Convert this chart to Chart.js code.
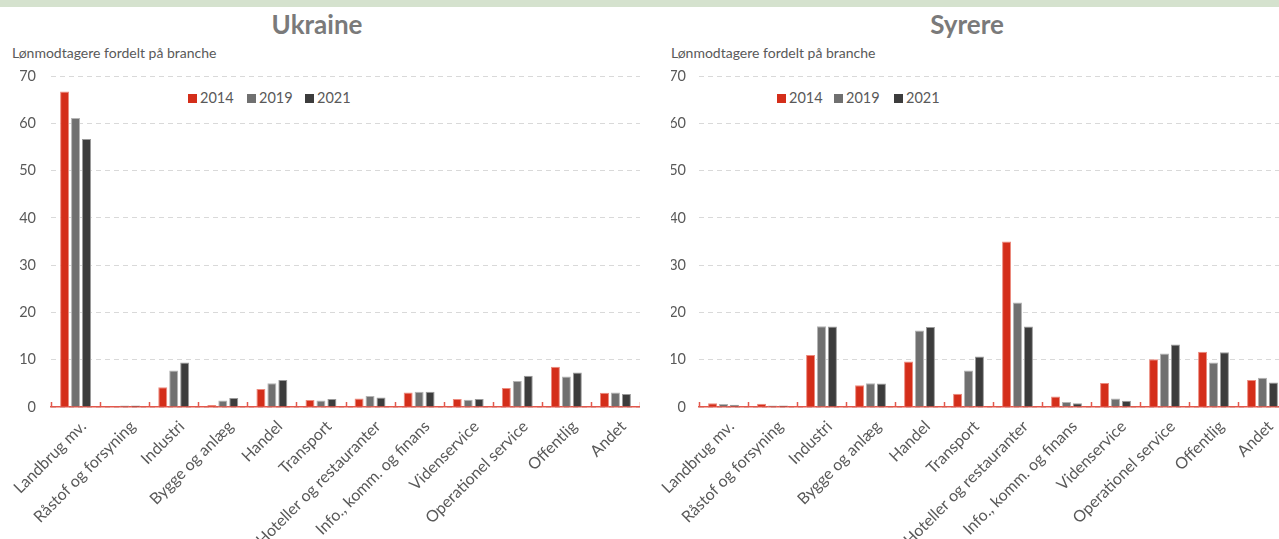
<!DOCTYPE html>
<html>
<head>
<meta charset="utf-8">
<script src="https://cdn.jsdelivr.net/npm/chart.js@4"></script>
<style>
  html, body { margin: 0; padding: 0; background: #fff; overflow: hidden; }
  body { width: 1279px; height: 539px; position: relative; font-family: Lato, 'Open Sans', sans-serif; }
  .band { position: absolute; left: 0; top: 0; width: 1279px; height: 7px; background: #d5e2ce; }
  .title { position: absolute; top: 8px; font-weight: bold; font-size: 26px; color: #7a7a7a; transform: translateX(-50%); white-space: nowrap; }
  .sub { position: absolute; top: 44px; font-size: 14px; color: #595959; white-space: nowrap; }
  .legend { position: absolute; top: 89px; font-size: 14.5px; color: #595959; white-space: nowrap; }
  .legend span { position: absolute; top: 0; }
  .legend i { position: absolute; top: 5px; width: 9px; height: 9px; }
  canvas { position: absolute; top: 0; }
</style>
</head>
<body>
<div class="band"></div>
<div class="title" style="left:317px">Ukraine</div>
<div class="title" style="left:967px">Syrere</div>
<div class="sub" style="left:12px">Lønmodtagere fordelt på branche</div>
<div class="sub" style="left:671px">Lønmodtagere fordelt på branche</div>
<div class="legend" id="legendLeft" style="left:188px"></div>
<div class="legend" id="legendRight" style="left:777px"></div>
<canvas id="ukraineChart" width="640" height="539" style="left:0"></canvas>
<canvas id="syrereChart" width="647" height="539" style="left:640px"></canvas>

<script>
// Branches
const categories = [
  'Landbrug mv.', 'Råstof og forsyning', 'Industri', 'Bygge og anlæg', 'Handel',
  'Transport', 'Hoteller og restauranter', 'Info., komm. og finans', 'Videnservice',
  'Operationel service', 'Offentlig', 'Andet'
];
const years = ['2014', '2019', '2021'];

// Ukraine (pct.)
const ukraine2014 = [66.7, 0.0, 4.2, 0.4, 3.8, 1.5, 1.8, 3.05, 1.7, 4.0, 8.5, 3.0];
const ukraine2019 = [61.1, 0.3, 7.7, 1.4, 5.0, 1.35, 2.3, 3.2, 1.55, 5.5, 6.45, 3.05];
const ukraine2021 = [56.7, 0.3, 9.4, 1.9, 5.7, 1.7, 2.0, 3.2, 1.7, 6.6, 7.3, 2.75];

// Syrere (pct.)
const syrere2014 = [0.8, 0.7, 11.0, 4.6, 9.6, 2.8, 35.0, 2.2, 5.1, 10.1, 11.7, 5.7];
const syrere2019 = [0.65, 0.3, 17.1, 5.0, 16.2, 7.7, 22.1, 1.05, 1.8, 11.3, 9.4, 6.2];
const syrere2021 = [0.45, 0.3, 17.0, 4.95, 16.9, 10.7, 17.0, 0.8, 1.3, 13.2, 11.6, 5.2];

// y axis ticks
const yTicks = [0, 10, 20, 30, 40, 50, 60, 70];

const barColors = ['#d42e1a', '#707070', '#3c3c3c'];
const barBorders = ['#ec8a7e', '#b4b4b4', '#9a9a9a'];
const axisRed = '#e3574b';
const textGray = '#595959';

// small up-pointing tick marks between the categories
const insideTicks = {
  id: 'insideTicks',
  afterDatasetsDraw(chart) {
    const x = chart.scales.x;
    const ctx = chart.ctx;
    const n = categories.length;
    const w = (x.right - x.left) / n;
    ctx.save();
    ctx.strokeStyle = axisRed;
    ctx.lineWidth = 1.5;
    for (let i = 0; i <= n; i++) {
      const px = Math.round(x.left + i * w) + 0.5;
      ctx.beginPath();
      ctx.moveTo(px, x.top);
      ctx.lineTo(px, x.top - 5);
      ctx.stroke();
    }
    ctx.restore();
  }
};

function buildLegend(id, offsets) {
  const el = document.getElementById(id);
  years.forEach((y, i) => {
    el.innerHTML += '<i style="left:' + offsets[i] + 'px;background:' + barColors[i] + '"></i>' +
      '<span style="left:' + (offsets[i] + 12) + 'px">' + y + '</span>';
  });
}

function makeChart(canvasId, series, padLeft, yWidth, yPad) {
  return new Chart(document.getElementById(canvasId), {
    type: 'bar',
    data: {
      labels: categories,
      datasets: series.map((values, i) => ({
        label: years[i],
        data: values,
        backgroundColor: barColors[i],
        borderColor: barBorders[i],
        borderWidth: 1,
        categoryPercentage: 0.67,
        barPercentage: 0.82
      }))
    },
    options: {
      responsive: false,
      animation: false,
      layout: { padding: { left: padLeft, top: 76, right: 0, bottom: 0 } },
      plugins: {
        legend: { display: false },
        tooltip: { enabled: false }
      },
      scales: {
        x: {
          grid: { display: false },
          border: { color: axisRed, width: 1.5 },
          ticks: {
            color: textGray,
            font: { family: 'Lato', size: 16 },
            minRotation: 45,
            maxRotation: 45,
            padding: 2,
            labelOffset: 8
          },
          afterFit: (scale) => { scale.height = 132; }
        },
        y: {
          min: 0,
          max: 70,
          afterBuildTicks: (scale) => { scale.ticks = yTicks.map(v => ({ value: v })); },
          grid: { color: '#d9d9d9', drawTicks: false, lineWidth: 1 },
          border: { display: false, dash: [5, 4] },
          ticks: {
            color: textGray,
            font: { family: 'Lato', size: 14.5 },
            padding: yPad
          },
          afterFit: (scale) => { scale.width = yWidth; }
        }
      }
    },
    plugins: [insideTicks]
  });
}

buildLegend('legendLeft', [0, 59, 117]);
buildLegend('legendRight', [0, 57, 117]);

makeChart('ukraineChart', [ukraine2014, ukraine2019, ukraine2021], 12, 39, 15);
makeChart('syrereChart', [syrere2014, syrere2019, syrere2021], 31, 28, 13);
</script>
</body>
</html>
